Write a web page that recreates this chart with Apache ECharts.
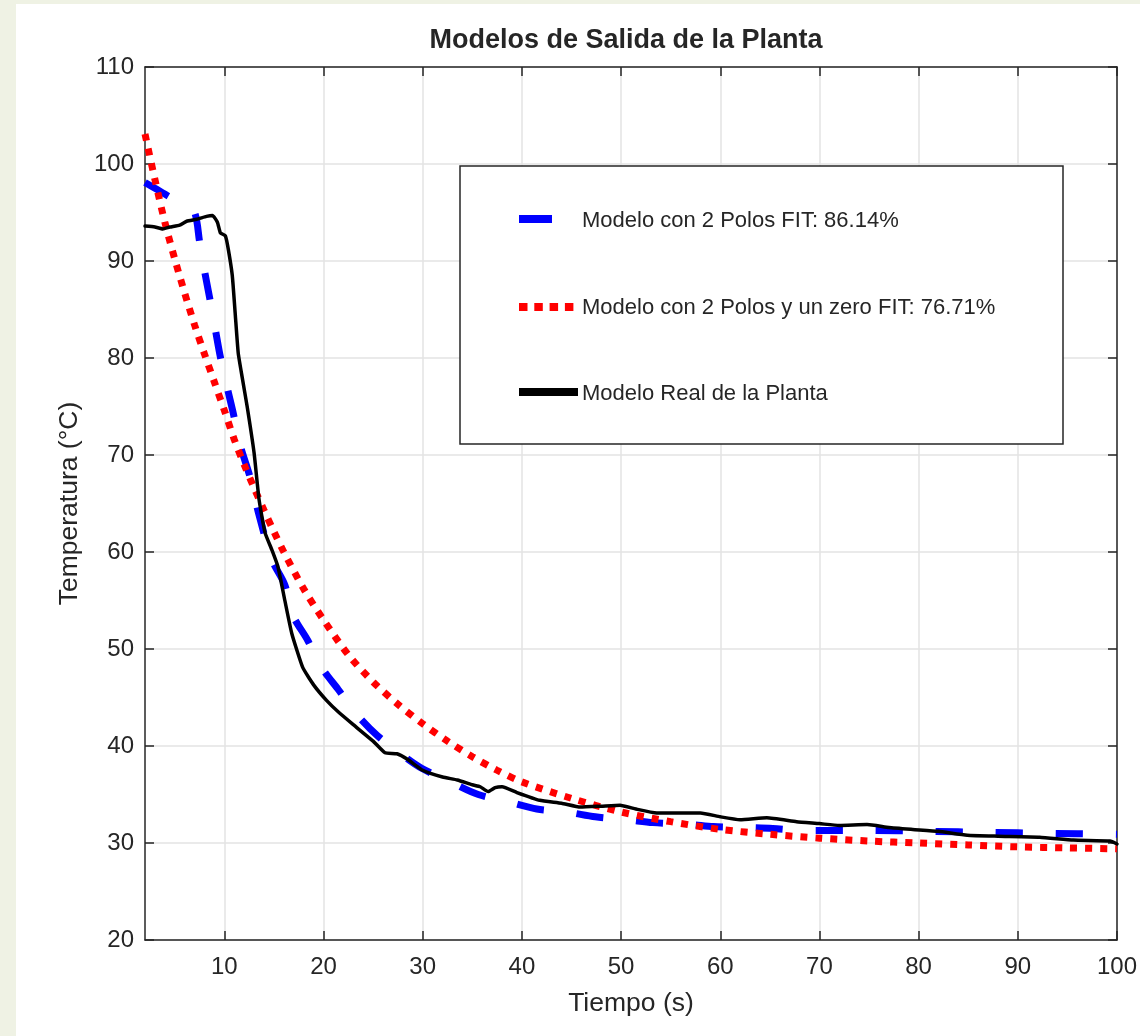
<!DOCTYPE html>
<html>
<head>
<meta charset="utf-8">
<script src="https://cdn.jsdelivr.net/npm/echarts@6/dist/echarts.min.js"></script>
<style>
html,body{margin:0;padding:0;background:#eff2e4;}
#panel{position:absolute;left:16px;top:4px;width:1124px;height:1032px;background:#ffffff;}
#c{position:absolute;left:0;top:0;width:1140px;height:1036px;}
</style>
</head>
<body>
<div id="panel"></div>
<div id="c"></div>
<script>
// ---- data ----
const xTickValues = [10, 20, 30, 40, 50, 60, 70, 80, 90, 100];

// Modelo Real de la Planta (black)
const timeReal = [2, 3, 3.8, 4.5, 5.5, 6.2, 7.2, 8.2, 8.8, 9.3, 9.6, 10.1, 10.4, 10.8, 11.1, 11.4, 11.8, 12.3, 13.0, 13.5, 14.1, 14.8, 15.4, 16.1, 16.8, 17.9, 19, 20.3, 21.5, 23, 25, 26.2, 27.4, 28.5, 30, 32, 33.5, 35, 35.8, 36.6, 37.3, 38, 39.5, 41.8, 44, 45.9, 48, 49.9, 51.5, 53.6, 56, 58, 60, 62, 64.7, 67.7, 70, 72, 74.8, 77, 79.4, 82, 84.9, 88, 92.2, 95.6, 99.3, 100];
const tempReal = [93.6, 93.5, 93.3, 93.5, 93.7, 94.1, 94.3, 94.6, 94.7, 94.0, 92.9, 92.6, 91.2, 88.5, 84.5, 80.5, 78.0, 75.0, 70.2, 65.4, 62.0, 60.2, 58.5, 55.0, 51.6, 48.1, 46.3, 44.7, 43.5, 42.2, 40.5, 39.3, 39.2, 38.6, 37.5, 36.8, 36.5, 36.0, 35.8, 35.3, 35.7, 35.8, 35.2, 34.4, 34.1, 33.7, 33.8, 33.9, 33.5, 33.1, 33.1, 33.1, 32.7, 32.4, 32.6, 32.2, 32.0, 31.8, 31.9, 31.6, 31.4, 31.2, 30.8, 30.7, 30.6, 30.3, 30.2, 29.9];

// Modelo con 2 Polos (blue dashed)
const timeM2 = [2, 3, 4.5, 6, 7, 7.5, 8, 8.5, 9.1, 9.6, 10.3, 10.9, 11.6, 12.6, 13.4, 14.8, 16.1, 16.9, 18.4, 19.8, 21.5, 23.4, 25.4, 27.9, 29.9, 33, 35.6, 38.8, 41.5, 44.5, 47.4, 50.6, 53.2, 57, 59.3, 62.7, 65.3, 68.3, 75, 81, 87, 93, 100];
const tempM2 = [98.1, 97.5, 96.6, 95.8, 95.0, 92.0, 89.0, 86.3, 82.9, 80.1, 76.9, 74.3, 71.0, 67.7, 64.2, 59.2, 56.6, 53.5, 50.9, 48.1, 45.8, 43.2, 41.1, 39.1, 37.7, 36.2, 35.0, 34.2, 33.5, 33.2, 32.7, 32.4, 32.1, 31.9, 31.7, 31.6, 31.5, 31.3, 31.3, 31.2, 31.1, 31.0, 30.9];

// Modelo con 2 Polos y un zero (red dotted)
const timeM2Z = [2, 3, 4, 5, 6, 7, 8, 9, 10, 11, 12, 13, 14, 15, 16, 18, 20, 22.5, 25, 27.5, 30, 32.5, 35, 37.5, 40, 45, 50, 55, 60, 65, 70, 75, 80, 85, 90, 95, 100];
const tempM2Z = [103.1, 98.4, 94.0, 90.2, 86.7, 83.4, 80.4, 77.5, 74.6, 71.6, 69.0, 66.6, 64.3, 62.1, 60.0, 56.2, 53.0, 49.4, 46.6, 44.3, 42.3, 40.5, 38.9, 37.5, 36.3, 34.6, 33.2, 32.2, 31.4, 30.9, 30.5, 30.2, 30.0, 29.8, 29.6, 29.5, 29.4];

const legendLabels = ['Modelo con 2 Polos FIT: 86.14%', 'Modelo con 2 Polos y un zero FIT: 76.71%', 'Modelo Real de la Planta'];
const titleText = 'Modelos de Salida de la Planta';
const xName = 'Tiempo (s)';
const yName = 'Temperatura (°C)';

// ---- chart ----
const FONT = '"Liberation Sans", Arial, Helvetica, sans-serif';
const TXT = '#262626';
const AX = '#262626';
const pairs = (xs, ys) => xs.map((x, i) => [x, ys[i]]);

const chart = echarts.init(document.getElementById('c'), null, {renderer: 'canvas'});
const grid = {left: 145, right: 23, top: 67, bottom: 96, containLabel: false};

const xBase = {
  type: 'value', min: 2, max: 100,
  axisLine: {show: true, onZero: false, lineStyle: {color: AX, width: 1.5}},
  axisTick: {show: true, inside: true, length: 9, customValues: xTickValues, lineStyle: {color: AX, width: 1.5}},
  axisLabel: {show: false, customValues: xTickValues},
  splitLine: {show: false}
};

const option = {
  backgroundColor: 'transparent',
  animation: false,
  grid: grid,
  xAxis: [
    Object.assign({}, xBase, {
      position: 'bottom',
      name: xName, nameLocation: 'middle', nameGap: 50,
      nameTextStyle: {color: TXT, fontSize: 26.5, fontFamily: FONT},
      axisLabel: {show: true, customValues: xTickValues, margin: 15, color: TXT, fontSize: 24, fontFamily: FONT},
      splitLine: {show: true, lineStyle: {color: '#e3e3e3', width: 1.5}}
    }),
    Object.assign({}, xBase, {position: 'top'})
  ],
  yAxis: [
    {
      type: 'value', min: 20, max: 110, interval: 10, position: 'left',
      name: yName, nameLocation: 'middle', nameGap: 57, nameRotate: 90,
      nameTextStyle: {color: TXT, fontSize: 26.5, fontFamily: FONT},
      axisLine: {show: true, onZero: false, lineStyle: {color: AX, width: 1.5}},
      axisTick: {show: true, inside: true, length: 9, lineStyle: {color: AX, width: 1.5}},
      axisLabel: {show: true, margin: 11, color: TXT, fontSize: 24, fontFamily: FONT},
      splitLine: {show: true, lineStyle: {color: '#e3e3e3', width: 1.5}}
    },
    {
      type: 'value', min: 20, max: 110, interval: 10, position: 'right',
      axisLine: {show: true, onZero: false, lineStyle: {color: AX, width: 1.5}},
      axisTick: {show: true, inside: true, length: 9, lineStyle: {color: AX, width: 1.5}},
      axisLabel: {show: false},
      splitLine: {show: false}
    }
  ],
  series: [
    {
      name: legendLabels[0], type: 'line', data: pairs(timeM2, tempM2),
      showSymbol: false, smooth: 0.3, z: 3,
      lineStyle: {color: '#0000ff', width: 7, type: [27, 33], cap: 'butt'}
    },
    {
      name: legendLabels[1], type: 'line', data: pairs(timeM2Z, tempM2Z),
      showSymbol: false, smooth: 0.3, z: 4,
      lineStyle: {color: '#ff0000', width: 7, type: [7, 8], cap: 'butt'}
    },
    {
      name: legendLabels[2], type: 'line', data: pairs(timeReal, tempReal),
      showSymbol: false, smooth: 0.15, z: 5,
      lineStyle: {color: '#000000', width: 3.5, join: 'round', cap: 'round'}
    }
  ],
  graphic: [
    {type: 'text', x: 626, y: 41, z: 100,
     style: {text: titleText, fill: TXT, font: 'bold 27px ' + FONT, textAlign: 'center', textVerticalAlign: 'middle'}},
    {type: 'rect', z: 100, shape: {x: 460, y: 166, width: 603, height: 278},
     style: {fill: '#ffffff', stroke: AX, lineWidth: 1.5}},
    {type: 'line', z: 101, shape: {x1: 519, y1: 219, x2: 552, y2: 219},
     style: {stroke: '#0000ff', lineWidth: 8}},
    {type: 'line', z: 101, shape: {x1: 519, y1: 307, x2: 574, y2: 307},
     style: {stroke: '#ff0000', lineWidth: 8, lineDash: [8.5, 6.8]}},
    {type: 'line', z: 101, shape: {x1: 519, y1: 392, x2: 578, y2: 392},
     style: {stroke: '#000000', lineWidth: 8}},
    {type: 'text', x: 582, y: 221, z: 101,
     style: {text: legendLabels[0], fill: TXT, font: '22px ' + FONT, textVerticalAlign: 'middle'}},
    {type: 'text', x: 582, y: 308, z: 101,
     style: {text: legendLabels[1], fill: TXT, font: '22px ' + FONT, textVerticalAlign: 'middle'}},
    {type: 'text', x: 582, y: 394, z: 101,
     style: {text: legendLabels[2], fill: TXT, font: '22px ' + FONT, textVerticalAlign: 'middle'}}
  ]
};
chart.setOption(option);
</script>
</body>
</html>
